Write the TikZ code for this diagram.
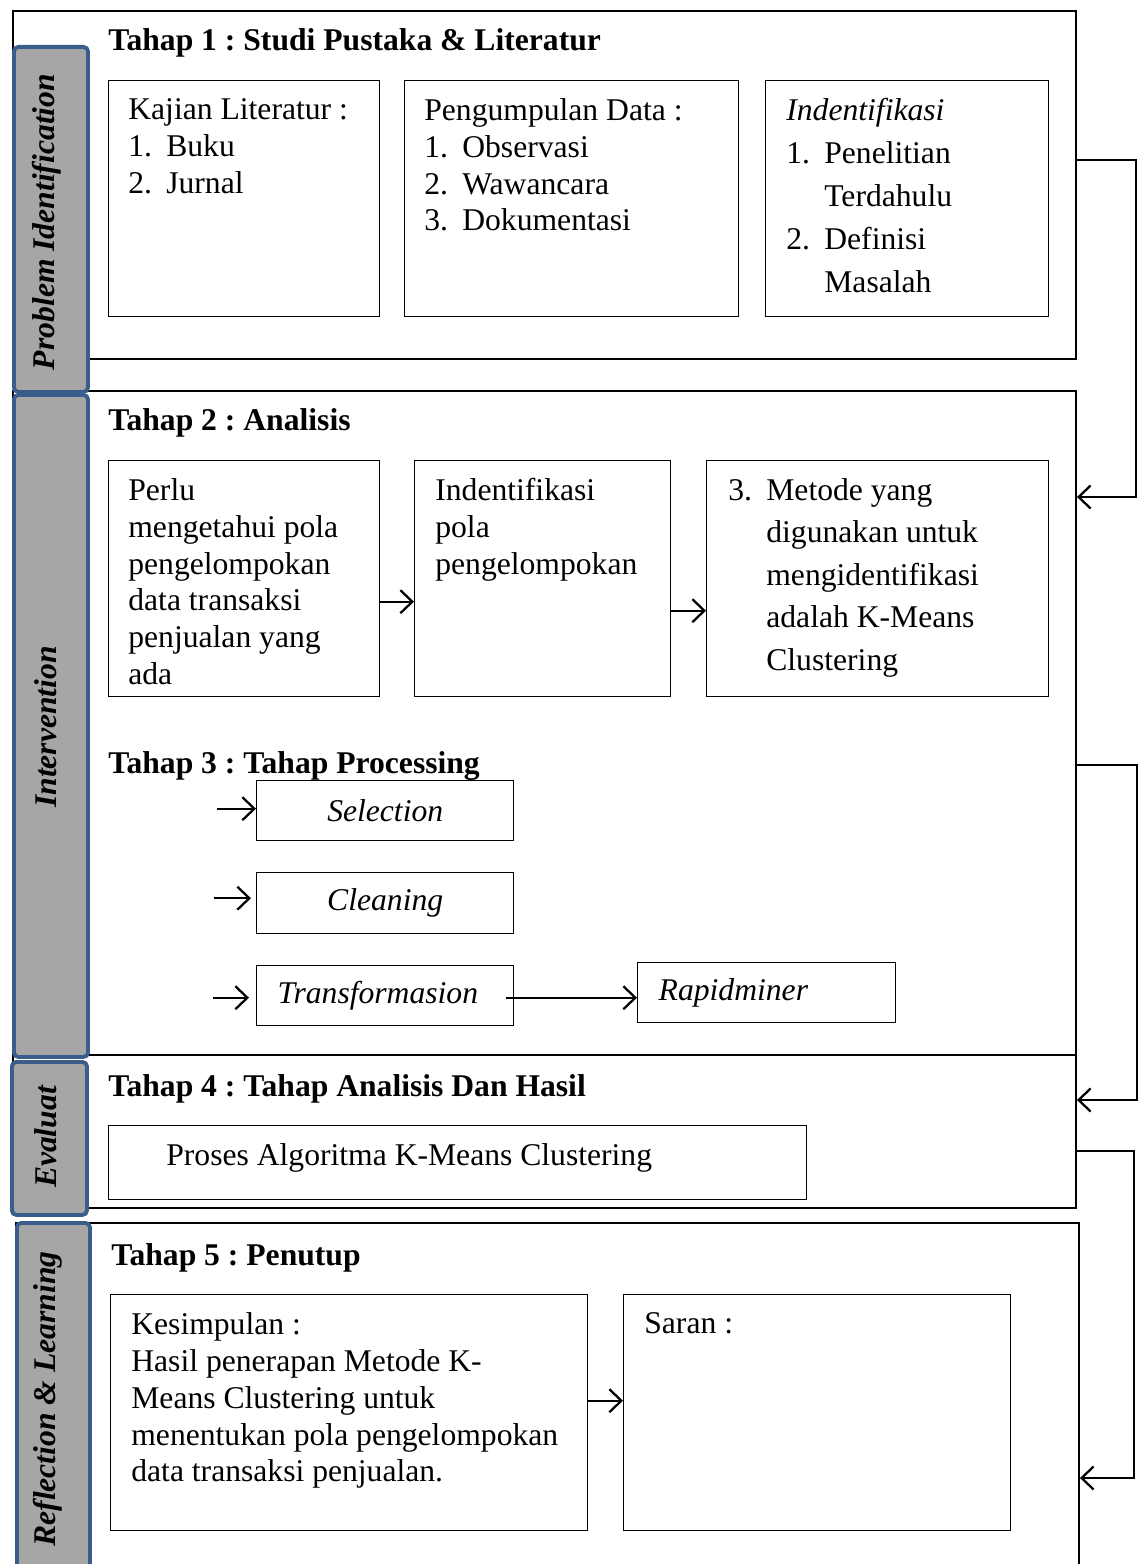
\documentclass[tikz,border=0pt]{standalone}
\usepackage{fontspec}
\setmainfont{Liberation Serif}
\usetikzlibrary{arrows.meta,positioning}
\frenchspacing

\definecolor{barblue}{RGB}{59,93,140}
\definecolor{bargray}{RGB}{166,166,166}
\newcommand{\nitem}[2]{\makebox[0.76cm][l]{#1}#2}
\newcommand{\ncont}[1]{\hspace*{0.76cm}#1}

\tikzset{
  >={Straight Barb[length=2.4mm,width=4.6mm]},
  wh/.style 2 args={minimum width=#1*0.02cm,minimum height=#2*0.02cm},
  stage/.style={draw,line width=1.1pt,anchor=north west,inner sep=0pt},
  box/.style={draw,line width=0.8pt,anchor=north west,inner sep=0pt},
  proc/.style={box,font=\fontsize{18}{21}\selectfont\itshape},
  txt/.style={anchor=north west,inner sep=0pt,align=left,font=\fontsize{18}{21}\selectfont},
  wide/.style={txt,font=\fontsize{18}{24.4}\selectfont},
  tahap/.style={anchor=west,inner sep=0pt,font=\fontsize{18}{21}\selectfont\bfseries},
  bar/.style={draw=barblue,fill=bargray,line width=2.2pt,rounded corners=2.5pt,anchor=north west,inner sep=0pt},
  barlabel/.style={rotate=90,inner sep=0pt,font=\fontsize{18}{21}\selectfont\bfseries\itshape},
  conn/.style={line width=1.3pt,->},
}

\begin{document}
\begin{tikzpicture}[x=0.02cm,y=-0.02cm]
\useasboundingbox (0,0) rectangle (1138,1564);
\clip (0,0) rectangle (1138,1564);

% Tahap 1
\node[stage,wh={1063}{348}] (stage1) at (12,10) {};
\node[tahap] (t1) at (108,43) {Tahap 1 : Studi Pustaka \& Literatur};
\node[box,wh={271}{236}] (kajian) at (108,80) {};
\node[box,wh={334}{236}] (kumpul) at (404,80) {};
\node[box,wh={283}{236}] (identif) at (765,80) {};
\node[txt] (kajianT) at ([shift={(20,18)}]kajian.north west)
  {Kajian Literatur :\\\nitem{1.}{Buku}\\\nitem{2.}{Jurnal}};
\node[txt] (kumpulT) at ([shift={(20,18)}]kumpul.north west)
  {Pengumpulan Data :\\\nitem{1.}{Observasi}\\\nitem{2.}{Wawancara}\\\nitem{3.}{Dokumentasi}};
\node[wide] (identifT) at ([shift={(21,18)}]identif.north west)
  {\textit{Indentifikasi}\\\nitem{1.}{Penelitian}\\\ncont{Terdahulu}\\\nitem{2.}{Definisi}\\\ncont{Masalah}};

% Tahap 2
\node[stage,wh={1063}{664}] (stage2) at (12,390) {};
\node[tahap] (t2) at (108,423) {Tahap 2 : Analisis};
\node[box,wh={271}{236}] (perlu) at (108,460) {};
\node[box,wh={256}{236}] (pola) at (414,460) {};
\node[box,wh={342}{236}] (metode) at (706,460) {};
\node[txt] (perluT) at ([shift={(20,18)}]perlu.north west)
  {Perlu\\mengetahui pola\\pengelompokan\\data transaksi\\penjualan yang\\ada};
\node[txt] (polaT) at ([shift={(21,18)}]pola.north west)
  {Indentifikasi\\pola\\pengelompokan};
\node[wide,font=\fontsize{18}{24.2}\selectfont] (metodeT) at ([shift={(22,18)}]metode.north west)
  {\nitem{3.}{Metode yang}\\\ncont{digunakan untuk}\\\ncont{mengidentifikasi}\\\ncont{adalah K-Means}\\\ncont{Clustering}};
\draw[conn] ([yshift=-0.46cm]perlu.east) -- ([yshift=-0.46cm]perlu.east -| pola.west);
\draw[conn] ([yshift=-0.64cm]pola.east) -- ([yshift=-0.64cm]pola.east -| metode.west);

% Tahap 3
\node[tahap] (t3) at (108,766) {Tahap 3 : Tahap Processing};
\node[proc,wh={257}{60}] (selection) at (256,780) {Selection};
\node[proc,wh={257}{61}] (cleaning) at (256,872) {Cleaning};
\node[proc,wh={257}{60},text width=4.3cm,inner xsep=0.42cm,align=left] (transf) at (256,965) {Transformasion};
\node[proc,wh={258}{60},text width=4.32cm,inner xsep=0.42cm,align=left] (rapid) at (637,962) {Rapidminer};
\draw[conn] ([xshift=-0.78cm,yshift=0.04cm]selection.west) -- ([yshift=0.04cm]selection.west);
\draw[conn] ([xshift=-0.84cm,yshift=0.1cm]cleaning.west) -- ([xshift=-0.1cm,yshift=0.1cm]cleaning.west);
\draw[conn] ([xshift=-0.86cm,yshift=-0.04cm]transf.west) -- ([xshift=-0.14cm,yshift=-0.04cm]transf.west);
\draw[conn] ([xshift=-0.16cm,yshift=-0.04cm]transf.east) -- ([yshift=-0.04cm]transf.east -| rapid.west);

% Tahap 4
\node[stage,wh={1063}{153}] (stage3) at (12,1054) {};
\node[tahap] (t4) at (108,1089) {Tahap 4 : Tahap Analisis Dan Hasil};
\node[box,wh={698}{74}] (proses) at (108,1125) {};
\node[txt,anchor=west] (prosesT) at ([shift={(58,-5)}]proses.west) {Proses Algoritma K-Means Clustering};

% Tahap 5
\node[stage,wh={1063}{400}] (stage4) at (15,1222) {};
\node[tahap] (t5) at (111,1258) {Tahap 5 : Penutup};
\node[box,wh={477}{236}] (simpul) at (110,1294) {};
\node[box,wh={387}{236}] (saran) at (623,1294) {};
\node[txt] (simpulT) at ([shift={(21,18)}]simpul.north west)
  {Kesimpulan :\\Hasil penerapan Metode K-\\Means Clustering untuk\\menentukan pola pengelompokan\\data transaksi penjualan.};
\node[txt] (saranT) at ([shift={(21,18)}]saran.north west) {Saran :};
\draw[conn] ([yshift=0.24cm]simpul.east) -- ([yshift=0.24cm]simpul.east -| saran.west);

% side bars
\node[bar,wh={74}{345}] (bar1) at (12,45) {};
\node[barlabel] (lab1) at (47,222) {Problem Identification};
\node[bar,wh={74}{662}] (bar2) at (12,393) {};
\node[barlabel] (lab2) at (46,727) {Intervention};
\node[bar,wh={75}{153}] (bar3) at (10,1060) {};
\node[barlabel] (lab3) at (46,1137) {Evaluat};
\node[bar,wh={73}{400}] (bar4) at (15,1221) {};
\node[barlabel] (lab4) at (48,1399) {Reflection \& Learning};

% feedback lines
\coordinate (r1a) at (1136,160);
\coordinate (r1b) at (1136,497);
\coordinate (r2a) at (1137,765);
\coordinate (r2b) at (1137,1100);
\coordinate (r3a) at (1134,1151);
\coordinate (r3b) at (1134,1478);
\draw[conn] (stage1.east |- r1a) -- (r1a) -- (r1b) -- (stage2.east |- r1b);
\draw[conn] (stage2.east |- r2a) -- (r2a) -- (r2b) -- (stage3.east |- r2b);
\draw[conn] (stage3.east |- r3a) -- (r3a) -- (r3b) -- (stage4.east |- r3b);
\end{tikzpicture}
\end{document}
